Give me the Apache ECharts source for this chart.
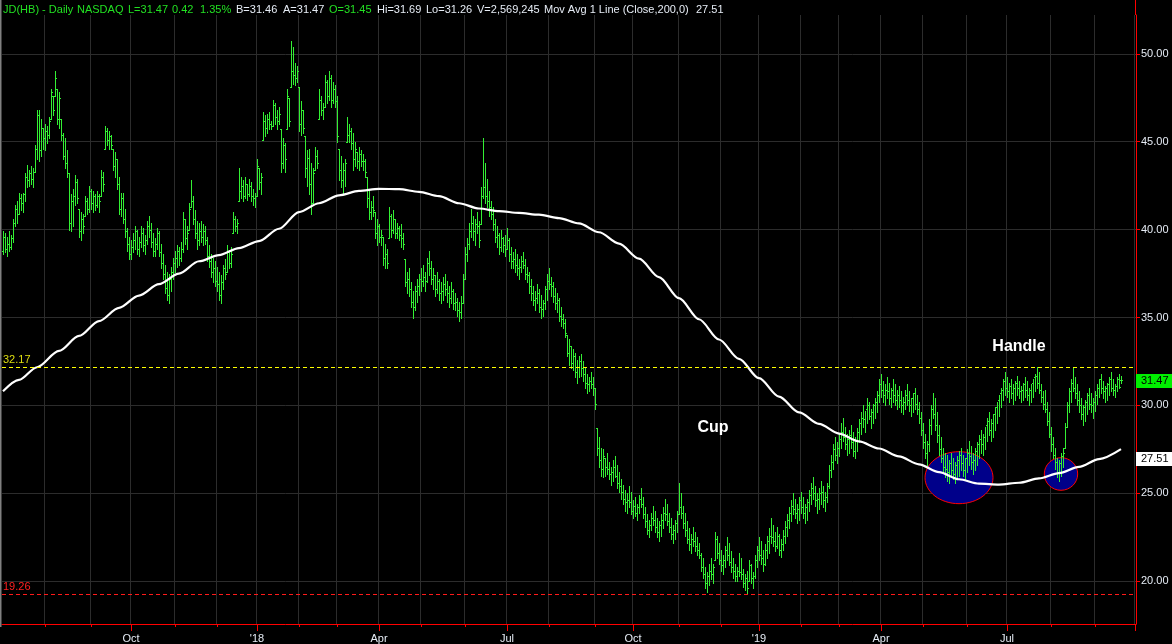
<!DOCTYPE html>
<html><head><meta charset="utf-8">
<script src="https://cdn.jsdelivr.net/npm/echarts@6/dist/echarts.min.js"></script>
<style>html,body{margin:0;padding:0;background:#000;}#c{width:1172px;height:644px;}</style>
</head><body><div id="c"></div>
<script>
// ---- calendar (NYSE trading days) ----
const firstDay = [2017, 5, 30];
const holidays = ['2017-07-04','2017-09-04','2017-11-23','2017-12-25','2018-01-01','2018-01-15','2018-02-19','2018-03-30','2018-05-28','2018-07-04','2018-09-03','2018-11-22','2018-12-05','2018-12-25','2019-01-01','2019-01-21','2019-02-18','2019-04-19','2019-05-27','2019-07-04','2019-09-02','2019-11-28'];
const categoryCount = 567;
const monthNames = ['Jan','Feb','Mar','Apr','May','Jun','Jul','Aug','Sep','Oct','Nov','Dec'];

// ---- daily OHLC ----
const opens = [
38.8,39.6,38.9,39.2,39.0,39.5,40.4,41.2,40.9,41.8, 41.5,42.0,43.0,42.8,43.2,42.9,43.3,44.6,46.5,44.5,
45.8,45.2,45.6,45.4,46.3,47.6,47.6,48.0,46.3,46.3, 45.4,44.2,43.8,43.2,40.4,41.6,41.9,42.7,41.2,39.9,
40.6,40.8,41.6,41.2,42.2,41.5,41.9,41.4,41.9,41.9, 43.0,44.6,45.6,45.1,45.3,44.6,43.6,44.0,42.6,41.2,
41.8,40.6,39.9,39.2,38.6,39.0,39.4,39.9,38.9,39.3, 39.8,39.1,39.4,40.2,40.0,39.3,38.8,39.2,39.8,38.7,
38.1,37.5,36.7,36.3,37.2,37.6,38.1,38.4,38.8,38.4, 38.9,40.6,39.5,40.0,41.3,41.6,40.6,39.8,39.4,39.9,
39.6,39.9,39.4,38.5,38.2,37.6,37.8,37.1,36.9,36.3, 37.0,37.8,37.6,38.7,38.1,39.8,40.6,40.2,41.6,42.2,
42.5,41.9,42.6,42.0,42.5,41.9,41.8,41.9,43.5,42.7, 45.1,46.2,45.8,46.3,46.0,45.9,47.1,46.4,46.2,45.7,
43.8,44.8,45.7,47.5,48.1,49.0,48.8,48.6,48.1,46.0, 46.8,45.3,43.5,44.1,42.6,41.5,43.4,44.2,46.3,47.4,
46.8,47.0,48.4,47.6,48.6,47.4,48.0,47.3,44.6,43.4, 42.8,43.4,45.0,45.4,45.6,44.9,44.0,44.4,43.9,44.3,
43.9,43.9,43.0,41.8,41.0,41.3,41.0,39.8,40.2,39.6, 39.6,38.4,38.6,39.5,40.8,40.0,40.6,39.8,40.1,39.7,
39.5,38.3,37.0,37.2,36.6,35.9,35.6,36.5,36.8,37.2, 37.1,37.3,37.1,38.1,37.8,37.2,37.4,36.6,37.1,36.4,
36.5,36.9,36.6,36.4,36.1,36.5,35.8,35.9,35.4,35.3, 35.8,37.2,38.6,39.2,39.9,40.4,39.9,40.3,40.2,40.3,
41.9,42.4,41.9,41.6,41.3,40.9,40.3,39.6,39.7,39.0, 39.5,39.1,38.9,39.4,38.6,38.2,38.3,38.0,37.8,37.9,
38.2,38.0,37.5,37.4,36.8,36.4,36.0,36.1,36.4,35.6, 35.5,35.8,36.6,37.1,36.9,36.8,36.2,35.8,36.0,35.1,
34.9,34.7,34.0,33.0,33.4,32.4,32.8,31.9,32.2,32.5, 32.1,31.8,31.3,31.2,31.4,31.2,31.0,28.7,27.6,26.9,
26.4,27.0,26.5,26.4,26.1,26.2,26.5,26.0,25.6,25.4, 25.1,24.7,24.5,24.6,24.5,24.0,24.3,23.9,24.2,24.7,
24.4,23.8,23.4,22.9,23.2,23.6,23.5,23.1,22.8,23.2, 23.5,23.9,23.8,23.4,23.1,22.7,22.9,23.3,23.8,24.2,
23.9,23.3,22.9,22.4,22.1,22.4,22.3,22.0,21.8,21.5, 20.8,20.4,19.9,20.3,20.6,20.4,21.2,22.4,21.6,21.2,
20.9,21.2,21.8,21.5,21.1,20.8,20.6,20.3,20.6,20.5, 20.4,19.9,20.2,20.0,20.9,20.2,20.3,21.2,21.8,21.5,
21.3,21.0,21.8,22.3,22.6,22.5,22.3,22.0,22.6,21.8, 22.1,22.6,23.1,23.5,23.9,24.3,24.1,23.9,24.1,24.6,
24.2,23.9,24.2,24.5,24.9,25.3,25.0,24.6,24.7,25.0, 25.1,24.6,24.8,25.4,26.3,26.8,27.5,27.2,27.6,28.1,
28.5,28.2,27.8,28.1,28.3,27.9,27.4,28.0,28.5,29.0, 29.3,29.2,29.8,30.0,29.4,29.6,30.0,30.2,30.6,31.2,
30.9,30.6,30.9,30.8,30.4,30.9,30.6,30.3,30.6,30.3, 30.0,30.2,30.6,30.3,30.0,30.4,30.7,30.1,29.8,29.3,
28.6,27.9,27.3,27.8,28.9,29.8,29.5,28.9,28.3,27.5, 27.0,26.5,26.4,26.2,26.7,26.3,26.1,26.6,26.9,27.2,
26.7,26.3,27.0,27.3,27.1,26.8,26.9,27.4,27.8,28.1, 27.8,28.2,28.9,29.1,28.6,29.0,29.5,29.9,30.3,30.7,
30.9,31.4,31.0,30.8,31.1,30.7,31.0,31.3,31.0,30.8, 30.9,31.2,30.9,30.6,30.9,31.3,31.6,31.7,31.3,30.9,
30.5,30.1,29.8,29.1,28.4,27.8,27.2,26.8,26.2,26.7, 27.1,27.6,28.8,30.0,30.8,31.3,31.0,30.7,30.3,30.0,
29.5,29.9,30.2,30.6,30.1,30.0,30.2,30.6,31.0,31.5, 31.0,30.8,31.0,31.2,31.5,31.0,30.9,31.1,31.5,31.45
];
const highs = [
39.9,39.8,39.6,39.9,39.7,40.6,41.4,41.6,42.1,42.0, 42.1,43.2,43.7,43.4,43.6,43.5,44.8,46.8,46.8,46.3,
45.8,46.0,45.9,46.4,48.0,47.6,49.0,48.0,47.8,46.3, 45.5,45.2,44.5,43.2,42.0,42.3,43.1,42.9,41.2,41.0,
40.9,41.9,41.8,42.5,42.3,42.2,42.0,42.2,42.0,43.4, 43.3,45.9,45.8,45.6,45.4,44.6,44.4,44.0,43.0,42.1,
42.1,41.2,40.1,39.6,39.4,39.8,40.2,40.0,39.6,40.2, 40.1,39.7,40.5,40.8,40.4,39.8,39.5,40.1,39.9,39.2,
38.6,38.0,37.6,37.5,37.9,38.4,38.8,39.1,39.0,39.3, 41.0,40.6,40.2,41.5,42.8,41.9,41.1,40.5,40.4,40.5,
40.3,40.2,39.6,39.1,38.6,38.4,38.2,37.9,37.6,37.4, 38.0,38.3,39.1,38.7,39.0,41.0,40.8,40.6,43.5,43.0,
42.8,43.0,42.6,42.9,42.7,42.3,42.1,44.0,43.5,43.2, 46.7,46.5,46.6,46.7,46.2,47.4,47.2,46.8,47.0,45.7,
45.2,44.9,48.0,47.5,50.7,50.4,49.5,49.3,48.1,47.3, 46.8,45.3,44.5,44.6,43.8,43.5,44.7,44.5,48.0,47.6,
47.2,48.8,48.5,49.0,48.8,48.4,48.2,47.6,44.6,44.2, 43.8,44.0,46.4,46.0,45.8,45.5,45.0,44.4,44.7,44.5,
44.3,44.0,43.0,42.2,41.6,41.9,41.0,40.6,40.3,40.0, 39.6,39.2,38.9,41.3,40.9,41.1,40.6,40.4,40.2,40.3,
39.8,38.3,37.6,37.8,37.0,36.5,36.8,37.2,37.5,37.8, 38.0,37.6,38.4,38.8,38.2,37.8,37.4,37.6,37.2,37.0,
37.3,37.5,37.1,36.8,37.0,36.6,36.4,36.1,35.9,36.2, 37.5,39.0,39.5,40.4,41.2,40.8,40.6,41.0,40.5,42.4,
45.2,43.8,42.9,42.2,41.6,41.3,40.6,40.2,39.8,40.0, 39.6,39.7,40.1,39.5,39.0,38.7,38.9,38.6,38.3,38.5,
38.7,38.3,37.9,37.6,37.2,36.8,36.5,36.9,36.6,36.3, 36.0,36.8,37.5,37.8,37.3,37.0,36.7,36.4,36.1,35.6,
35.2,34.9,34.0,33.8,33.4,33.2,33.0,32.6,32.8,32.9, 32.5,32.1,31.8,31.6,31.9,31.6,31.0,28.7,28.2,27.6,
27.5,27.0,27.3,26.8,26.5,26.9,27.1,26.6,26.2,25.8, 25.5,25.2,25.0,25.4,25.1,24.6,24.8,24.4,24.9,25.3,
24.8,24.2,23.8,23.5,23.9,24.3,24.0,23.6,23.4,23.8, 24.2,24.7,24.4,23.9,23.6,23.2,23.5,24.0,25.6,25.0,
24.3,23.9,23.4,23.0,22.7,23.1,22.8,22.5,22.2,21.6, 21.3,20.8,20.5,21.0,21.3,21.0,22.8,22.6,22.2,21.8,
21.5,22.0,22.5,22.2,21.7,21.3,21.0,20.8,21.6,21.3, 20.7,20.4,20.6,21.2,21.0,20.5,21.5,22.0,22.5,22.3,
21.8,22.1,22.6,23.0,23.6,23.2,22.8,23.1,22.7,22.4, 22.9,23.4,23.8,24.2,24.6,25.0,24.7,24.4,24.8,25.1,
24.8,24.4,24.7,25.2,25.6,25.9,25.4,25.0,25.3,25.7, 25.4,25.1,25.6,26.6,27.2,27.8,28.2,27.9,28.4,29.0,
29.3,28.8,28.4,28.6,28.9,28.5,28.2,28.7,29.2,29.6, 30.0,29.7,30.4,30.2,29.8,30.1,30.4,30.8,31.5,31.8,
31.4,31.2,31.6,31.3,31.0,31.5,31.2,30.9,31.1,30.8, 30.5,30.9,31.2,30.8,30.4,30.7,31.0,30.6,30.2,29.6,
29.0,28.4,28.0,29.2,30.0,30.7,30.4,29.6,28.9,28.2, 27.6,27.3,27.2,26.9,27.3,27.0,26.8,27.1,27.4,27.6,
27.2,27.0,27.5,28.0,27.7,27.3,27.6,27.9,28.3,28.6, 28.4,28.8,29.3,29.6,29.2,29.5,29.9,30.2,30.6,31.0,
31.5,31.9,31.6,31.3,31.5,31.2,31.4,31.7,31.4,31.1, 31.3,31.6,31.4,31.0,31.2,31.5,31.8,32.2,31.9,31.2,
30.8,30.9,30.2,29.6,28.8,28.2,27.6,27.0,26.9,27.3, 27.6,29.0,30.2,31.0,31.5,32.1,31.6,31.2,30.8,30.4,
30.0,30.3,30.7,31.0,30.7,30.4,30.8,31.2,31.5,31.8, 31.4,31.1,31.3,31.6,31.9,31.5,31.2,31.6,31.8,31.69
];
const lows = [
38.6,38.7,38.5,38.8,38.9,39.3,40.2,40.4,40.9,41.1, 41.0,41.6,42.4,42.5,42.6,42.4,43.3,44.0,43.9,44.2,
44.6,44.5,44.9,45.2,46.3,46.5,47.6,46.0,45.8,45.1, 44.0,43.5,43.0,40.0,39.9,40.2,41.4,41.5,39.6,39.4,
39.8,40.8,40.9,41.0,41.2,41.0,41.1,41.3,41.0,41.9, 42.2,44.6,44.8,44.6,44.6,43.4,43.0,42.3,40.9,40.8,
40.4,39.6,38.8,38.3,38.3,38.7,38.9,38.6,38.5,39.0, 38.8,38.6,39.2,39.6,39.0,38.5,38.5,38.9,38.5,37.8,
37.2,36.4,36.0,35.8,36.5,37.2,37.6,37.9,38.0,38.2, 38.7,39.2,38.9,40.0,41.3,40.3,39.5,38.9,39.1,39.3,
39.1,39.2,38.2,37.9,37.3,37.0,36.8,36.5,36.0,35.8, 36.6,37.2,37.6,37.8,37.9,39.8,39.9,39.8,41.6,41.8,
41.6,41.8,41.7,41.9,41.6,41.4,41.3,41.9,42.3,42.0, 45.1,45.3,45.5,45.7,45.7,45.9,46.0,45.7,46.0,43.3,
43.5,43.3,45.7,45.9,48.1,48.3,48.2,48.4,45.6,45.4, 45.5,43.0,42.5,42.0,40.9,41.5,43.4,43.5,46.3,46.5,
46.3,47.0,47.2,47.4,47.0,47.2,47.0,45.0,42.8,42.4, 42.1,42.5,45.0,45.0,44.6,43.4,43.6,43.5,43.4,43.6,
43.4,43.0,41.3,40.6,40.6,40.8,39.5,39.1,39.3,39.1, 38.0,37.8,37.8,39.5,39.6,39.8,39.5,39.5,39.4,39.0,
38.9,36.8,36.4,36.2,35.6,35.0,35.4,35.9,36.3,36.5, 36.8,36.5,37.0,37.4,36.9,36.6,36.2,36.4,36.0,35.8,
36.0,36.3,35.9,35.6,35.8,35.5,35.4,35.1,34.8,35.0, 35.8,37.2,38.2,38.9,39.6,39.4,39.1,39.8,39.0,40.3,
41.8,41.5,41.3,40.8,40.6,40.0,39.3,39.0,38.6,38.8, 38.7,38.5,38.9,38.2,37.8,37.8,37.6,37.4,37.2,37.6,
37.8,37.2,37.0,36.4,36.0,35.7,35.4,35.8,35.3,35.0, 35.1,35.5,36.0,36.6,36.2,35.9,35.5,35.3,34.8,34.5,
34.4,33.9,32.8,32.3,32.1,32.0,31.6,31.3,31.6,31.7, 31.4,31.0,30.7,30.8,31.0,30.6,29.8,27.2,26.5,26.0,
25.9,26.0,26.1,25.8,25.5,25.7,25.9,25.3,25.1,24.7, 24.4,24.0,23.9,24.2,23.8,23.6,23.7,23.5,23.9,24.2,
23.6,23.1,22.7,22.5,22.9,23.2,22.8,22.5,22.3,22.6, 23.0,23.5,23.2,22.8,22.4,22.2,22.4,22.8,23.8,23.6,
23.0,22.6,22.2,21.8,21.6,22.0,21.7,21.5,21.3,20.6, 20.2,19.6,19.4,19.8,20.1,19.9,21.2,21.3,21.0,20.6,
20.4,20.8,21.2,20.9,20.5,20.2,20.0,20.0,20.3,20.1, 19.7,19.5,19.26,20.0,19.9,19.6,20.2,20.8,21.2,21.0,
20.6,20.9,21.3,21.6,22.2,22.0,21.7,21.9,21.5,21.4, 21.8,22.2,22.6,23.0,23.4,23.8,23.6,23.3,23.5,23.9,
23.6,23.3,23.5,24.0,24.4,24.7,24.3,23.9,24.1,24.4, 24.2,24.0,24.5,25.3,25.9,26.4,26.9,26.7,27.1,27.6,
28.0,27.5,27.2,27.3,27.6,27.1,27.0,27.4,27.9,28.4, 28.8,28.5,29.0,29.2,28.7,29.0,29.3,29.6,30.2,30.5,
30.2,30.0,30.4,30.1,29.9,30.2,30.0,29.8,29.9,29.6, 29.5,29.8,30.0,29.7,29.4,29.6,29.8,29.5,29.0,28.3,
27.6,27.0,26.6,27.4,28.4,29.3,28.6,27.9,27.2,26.8, 26.2,25.9,25.7,25.6,25.9,25.8,25.6,25.8,26.0,26.3,
26.0,25.8,26.2,26.6,26.4,26.1,26.3,26.6,27.0,27.3, 27.2,27.5,28.0,28.3,28.0,28.2,28.6,29.0,29.4,29.9,
30.3,30.6,30.5,30.2,30.4,30.1,30.3,30.6,30.4,30.2, 30.3,30.5,30.3,30.0,30.2,30.5,30.8,31.0,30.7,30.2,
29.8,29.6,28.9,28.2,27.4,27.0,26.4,25.9,25.7,26.0, 26.5,27.6,28.8,29.6,30.2,30.8,30.4,30.0,29.6,29.2,
28.9,29.1,29.5,29.8,29.6,29.3,29.7,30.1,30.5,30.7, 30.4,30.2,30.3,30.6,30.8,30.6,30.5,30.8,31.0,31.26
];
const closes = [
39.6,38.9,39.2,39.0,39.5,40.4,41.2,40.9,41.8,41.5, 42.0,43.0,42.8,43.2,42.9,43.3,44.6,46.5,44.5,45.8,
45.2,45.6,45.4,46.2,47.8,46.8,48.6,46.3,47.5,45.4, 44.2,43.8,43.2,40.4,41.6,41.9,42.7,41.8,39.9,40.6,
40.2,41.6,41.2,42.2,41.5,41.9,41.4,41.9,41.6,43.0, 42.6,45.6,45.1,45.3,44.8,43.6,44.0,42.6,41.2,41.8,
40.6,39.9,39.2,38.6,39.0,39.4,39.9,38.9,39.3,39.8, 39.1,39.4,40.2,40.0,39.3,38.8,39.2,39.8,38.7,38.1,
37.5,36.7,36.3,37.2,37.6,38.1,38.4,38.8,38.4,38.9, 40.6,39.5,39.8,41.2,41.6,40.6,39.8,39.4,39.9,39.6,
39.9,39.4,38.5,38.2,37.6,37.8,37.1,36.9,36.3,37.0, 37.8,37.5,38.8,38.1,38.6,40.6,40.2,40.4,42.2,42.5,
41.9,42.6,42.0,42.5,41.9,41.8,41.9,43.6,42.7,43.0, 46.2,45.8,46.3,46.0,45.9,47.1,46.4,46.2,46.6,43.8,
44.8,44.0,47.6,46.2,49.0,48.8,48.6,49.0,46.0,46.8, 45.8,43.5,44.1,42.6,41.4,43.2,44.2,43.8,47.4,46.8,
47.0,48.4,47.6,48.6,47.4,48.0,47.3,45.3,43.4,42.8, 43.4,43.8,45.4,45.6,44.9,44.0,44.6,43.9,44.3,43.9,
43.9,43.3,41.8,41.0,41.3,41.1,39.8,40.2,39.6,39.7, 38.4,38.6,38.1,40.8,40.0,40.6,39.8,40.1,39.7,39.5,
39.2,37.0,37.2,36.6,35.9,35.6,36.5,36.8,37.2,37.1, 37.3,37.1,38.1,37.8,37.2,37.4,36.6,37.1,36.4,36.5,
36.9,36.6,36.4,36.1,36.5,35.8,35.9,35.4,35.3,35.8, 37.2,38.6,39.2,39.9,40.4,39.9,40.3,40.2,39.4,41.9,
42.4,41.9,41.6,41.3,40.9,40.3,39.6,39.7,39.0,39.5, 39.1,38.9,39.4,38.6,38.2,38.3,38.0,37.8,37.9,38.2,
38.0,37.5,37.4,36.8,36.4,36.0,36.1,36.4,35.6,35.5, 35.8,36.6,37.1,36.9,36.8,36.2,35.8,36.0,35.1,34.9,
34.7,34.1,33.0,33.4,32.4,32.8,31.9,32.2,32.5,32.1, 31.8,31.3,31.2,31.4,31.2,31.0,30.1,27.6,26.9,26.4,
27.1,26.5,26.4,26.1,26.2,26.5,26.0,25.6,25.4,25.1, 24.7,24.5,24.6,24.5,24.0,24.3,23.9,24.2,24.7,24.4,
23.8,23.4,22.9,23.2,23.6,23.5,23.1,22.8,23.2,23.5, 23.9,23.8,23.4,23.1,22.7,22.9,23.3,23.8,24.2,23.9,
23.3,22.9,22.4,22.1,22.4,22.3,22.0,21.8,21.5,20.8, 20.4,19.9,20.3,20.6,20.4,20.8,22.4,21.6,21.2,20.9,
21.2,21.8,21.5,21.1,20.8,20.6,20.3,20.6,20.5,20.4, 19.9,20.2,19.6,20.9,20.2,20.3,21.2,21.8,21.5,21.3,
21.0,21.8,22.3,22.6,22.5,22.3,22.0,22.6,21.8,22.1, 22.6,23.1,23.5,23.9,24.3,24.1,23.9,24.1,24.6,24.2,
23.9,24.2,24.5,24.9,25.3,25.0,24.6,24.7,25.0,25.1, 24.6,24.8,25.4,26.3,26.8,27.5,27.2,27.6,28.1,28.5,
28.2,27.8,28.1,28.3,27.9,27.4,28.0,28.5,29.0,29.3, 29.2,29.8,30.0,29.4,29.6,30.0,30.2,30.6,31.2,30.9,
30.6,30.9,30.8,30.4,30.9,30.6,30.3,30.6,30.3,30.0, 30.2,30.6,30.3,30.0,30.4,30.7,30.1,29.8,29.3,28.6,
27.9,27.3,27.8,28.9,29.8,29.5,28.9,28.3,27.5,27.0, 26.5,26.4,26.2,26.7,26.3,26.1,26.6,26.9,27.2,26.7,
26.3,27.0,27.3,27.1,26.8,26.9,27.4,27.8,28.1,27.8, 28.2,28.9,29.1,28.6,29.0,29.5,29.9,30.3,30.7,30.9,
31.4,31.0,30.8,31.1,30.7,31.0,31.3,31.0,30.8,30.9, 31.2,30.9,30.6,30.9,31.3,31.6,31.7,31.3,30.9,30.5,
30.1,29.8,29.1,28.4,27.8,27.2,26.8,26.2,26.7,27.1, 27.3,28.8,30.0,30.8,31.3,31.0,30.7,30.3,30.0,29.5,
29.9,30.2,30.6,30.1,30.0,30.2,30.6,31.0,31.5,31.0, 30.8,31.0,31.2,31.5,31.0,30.9,31.1,31.5,31.05,31.47
];

// ---- 200-day moving average, [bar index, value] ----
const movingAverage = [
[0,30.8],[8,31.45],[17,32.17],[28,33.1],[38,33.95],[48,34.8],[58,35.55],[68,36.25],[78,36.9],[88,37.5],
[98,38.2],[108,38.55],[118,38.95],[128,39.35],[138,40.05],[148,41.0],[158,41.5],[168,41.95],[178,42.2],[188,42.32],
[198,42.3],[208,42.15],[218,41.9],[228,41.5],[238,41.2],[248,41.05],[258,40.95],[268,40.85],[278,40.65],[288,40.35],
[298,39.85],[308,39.2],[318,38.35],[328,37.3],[338,36.1],[348,34.9],[358,33.75],[368,32.65],[378,31.55],[388,30.5],
[398,29.6],[408,28.95],[418,28.4],[428,27.95],[438,27.55],[448,27.1],[458,26.65],[468,26.2],[478,25.8],[488,25.55],
[498,25.5],[508,25.6],[518,25.85],[528,26.15],[538,26.5],[548,26.95],[559,27.51]
];
const levelValues = [32.17, 19.26];
const yTicks = [20, 25, 30, 35, 40, 45, 50];
const yRange = [17.567, 52.207];

// annotations: [bar index, price]
const ellipseAnchors = [[478, 25.89, 34, 26], [528.5, 26.1, 16.7, 16.3]];
const textNotes = [['Cup', 355, 28.72], ['Handle', 507.5, 33.36]];
const headerParts = [
  ['JD(HB) - Daily', 3, 'g'], ['NASDAQ', 77, 'g'], ['L=31.47', 128, 'g'], ['0.42', 172, 'g'], ['1.35%', 200, 'g'],
  ['B=31.46', 236, 'w'], ['A=31.47', 283, 'w'], ['O=31.45', 329, 'g'], ['Hi=31.69', 377, 'w'], ['Lo=31.26', 426, 'w'],
  ['V=2,569,245', 477, 'w'], ['Mov Avg 1 Line (Close,200,0)', 544, 'w'], ['27.51', 696, 'w']
];

// ---- build ----
const cats = [];
(function(){
  const d = new Date(Date.UTC(firstDay[0], firstDay[1], firstDay[2]));
  while (cats.length < categoryCount) {
    const s = d.toISOString().slice(0,10), w = d.getUTCDay();
    if (w !== 0 && w !== 6 && holidays.indexOf(s) < 0) cats.push(s);
    d.setUTCDate(d.getUTCDate() + 1);
  }
})();
const monthStart = new Set(), quarterStart = new Set();
for (let i = 5; i < cats.length; i++) {
  if (cats[i].slice(0,7) !== cats[i-1].slice(0,7)) {
    monthStart.add(i);
    const m = +cats[i].slice(5,7);
    if (m % 3 === 1) quarterStart.add(i);
  }
}
const FONT = 'Arial, "Liberation Sans", sans-serif';
const GREEN = '#22e022', TXT = '#e6ecf5', BAR = '#33f033';
const ohlc = opens.map((o, i) => [i, o, highs[i], lows[i], closes[i]]);

const chart = echarts.init(document.getElementById('c'), null, {renderer: 'canvas'});
chart.setOption({
  backgroundColor: '#000',
  animation: false,
  grid: {left: 2, right: 36, top: 15, bottom: 17, containLabel: false},
  xAxis: [{
    type: 'category', data: cats, boundaryGap: true,
    axisLine: {show: true, lineStyle: {color: '#ff0000', width: 1}},
    axisTick: {show: true, alignWithLabel: true, length: 7, lineStyle: {color: '#ff0000'},
               interval: (i) => quarterStart.has(i)},
    axisLabel: {show: true, interval: (i) => quarterStart.has(i) && i < 560, color: TXT, fontSize: 11, fontFamily: FONT, margin: 9,
      formatter: (v) => { const m = +v.slice(5,7); return m === 1 ? "'" + v.slice(2,4) : monthNames[m-1]; }},
    splitLine: {show: true, interval: (i) => monthStart.has(i), lineStyle: {color: '#2c2c2c', width: 1}}
  }, {
    type: 'category', data: cats, boundaryGap: true, position: 'bottom',
    axisLine: {show: false},
    axisTick: {show: true, alignWithLabel: true, length: 3, lineStyle: {color: '#ff0000'},
               interval: (i) => monthStart.has(i) && !quarterStart.has(i)},
    axisLabel: {show: false}, splitLine: {show: false}
  }],
  yAxis: {
    type: 'value', position: 'right', min: yRange[0], max: yRange[1], scale: true,
    axisLine: {show: true, lineStyle: {color: '#ff0000', width: 1}},
    axisTick: {show: true, length: 4, lineStyle: {color: '#ff0000'}, customValues: yTicks},
    axisLabel: {show: true, customValues: yTicks, formatter: (v) => v.toFixed(2), color: TXT, fontSize: 11, fontFamily: FONT, margin: 5},
    splitLine: {show: true, lineStyle: {color: '#2c2c2c', width: 1}}
  },
  series: [{
    type: 'custom', name: 'JD', data: ohlc, clip: true, z: 3,
    encode: {x: 0, y: [1, 2, 3, 4]},
    renderItem: function (params, api) {
      const i = api.value(0);
      const pH = api.coord([i, api.value(2)]), pL = api.coord([i, api.value(3)]);
      const pO = api.coord([i, api.value(1)]), pC = api.coord([i, api.value(4)]);
      const cx = Math.round(pH[0] - 0.25);
      const yH = Math.round(pH[1]), yL = Math.round(pL[1]);
      return {type: 'group', children: [
        {type: 'rect', shape: {x: cx, y: yH, width: 1, height: Math.max(1, yL - yH + 1)}, style: {fill: BAR}},
        {type: 'rect', shape: {x: cx - 1, y: Math.round(pO[1]), width: 1, height: 1}, style: {fill: BAR}},
        {type: 'rect', shape: {x: cx + 1, y: Math.round(pC[1]), width: 1, height: 1}, style: {fill: BAR}}
      ]};
    }
  }, {
    type: 'line', name: 'MA200', data: movingAverage, showSymbol: false, smooth: 0.3, smoothMonotone: 'x', z: 4,
    lineStyle: {color: '#ffffff', width: 2.2}, silent: true,
    markLine: {
      silent: true, symbol: 'none', precision: 2,
      label: {show: true, position: 'insideStartTop', fontSize: 11, fontFamily: FONT, distance: [1, 2],
               formatter: (p) => p.value.toFixed(2)},
      data: [
        {yAxis: levelValues[0], lineStyle: {color: '#ffff00', type: [4, 3], width: 1}, label: {color: '#dede10'}},
        {yAxis: levelValues[1], lineStyle: {color: '#ff1a1a', type: [4, 3], width: 1}, label: {color: '#ff2020'}}
      ]
    }
  }]
});

// overlays anchored to data coordinates
const px = (i, v) => chart.convertToPixel({xAxisIndex: 0, yAxisIndex: 0}, [i, v]);
const g = [];
g.push({type: 'rect', shape: {x: 0, y: 0, width: 1.5, height: 627}, style: {fill: '#808080'}, z: 5, silent: true});
g.push({type: 'line', shape: {x1: 1135.5, y1: 0, x2: 1135.5, y2: 15}, style: {stroke: '#ff0000', lineWidth: 1}, z: 5, silent: true});
ellipseAnchors.forEach(([i, v, rx, ry]) => {
  const p = px(i, v);
  g.push({type: 'ellipse', shape: {cx: p[0], cy: p[1], rx: rx, ry: ry}, style: {fill: '#00008a', stroke: '#ff0000', lineWidth: 1}, z: 1, silent: true});
});
textNotes.forEach(([t, i, v]) => {
  const p = px(i, v);
  g.push({type: 'text', x: p[0], y: p[1], style: {text: t, fill: '#ffffff', font: 'bold 16px ' + FONT, align: 'center', verticalAlign: 'middle'}, z: 6, silent: true});
});
headerParts.forEach(([t, x, c]) => {
  g.push({type: 'text', x: x, y: 10, style: {text: t, fill: c === 'g' ? GREEN : TXT, font: '11px ' + FONT, align: 'left', verticalAlign: 'middle'}, z: 6, silent: true});
});
const lastClose = closes[closes.length - 1];
const lastMA = movingAverage[movingAverage.length - 1][1];
const yC = px(0, lastClose)[1], yM = px(0, lastMA)[1] + 9.5;
g.push({type: 'rect', shape: {x: 1136, y: Math.round(yC) - 6, width: 36, height: 14}, style: {fill: '#00f000'}, z: 6, silent: true});
g.push({type: 'text', x: 1141, y: Math.round(yC) + 1, style: {text: lastClose.toFixed(2), fill: '#000', font: '11px ' + FONT, verticalAlign: 'middle'}, z: 7, silent: true});
g.push({type: 'rect', shape: {x: 1136, y: Math.round(yM) - 7, width: 36, height: 14}, style: {fill: '#ffffff'}, z: 6, silent: true});
g.push({type: 'text', x: 1141, y: Math.round(yM), style: {text: lastMA.toFixed(2), fill: '#000', font: '11px ' + FONT, verticalAlign: 'middle'}, z: 7, silent: true});
chart.setOption({graphic: {elements: g}});
</script>
</body></html>
